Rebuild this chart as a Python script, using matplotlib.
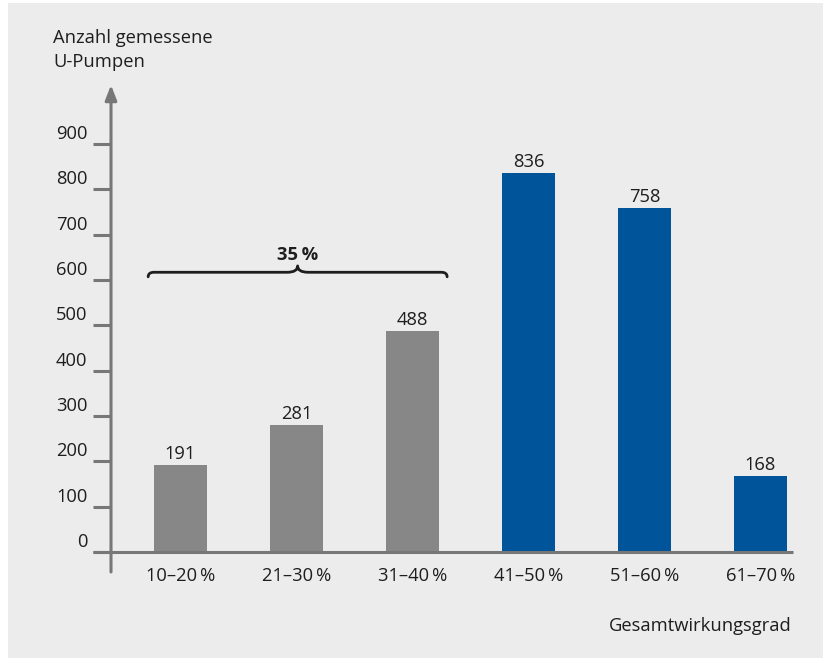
import matplotlib.pyplot as plt
import matplotlib.patches as mpatches
import matplotlib.transforms as mtransforms
from matplotlib.path import Path

# data
kategorien = ["10–20\u2009%", "21–30\u2009%", "31–40\u2009%", "41–50\u2009%", "51–60\u2009%", "61–70\u2009%"]
anzahl = [191, 281, 488, 836, 758, 168]
farben = ["#878787", "#878787", "#878787", "#00559a", "#00559a", "#00559a"]
y_ticks = [0, 100, 200, 300, 400, 500, 600, 700, 800, 900]
klammer_text = "35\u2009%"

plt.rcParams["font.family"] = ["Open Sans", "DejaVu Sans"]
TEXT = "#1e1e1e"
ACHSE = "#777777"
SIZE = 13.2

fig = plt.figure(figsize=(8.28, 6.58), dpi=100)
fig.patch.set_facecolor("white")
fig.patches.append(
    mpatches.Rectangle((8 / 828, 0), 815 / 828, 655 / 658, transform=fig.transFigure,
                       facecolor="#ececec", edgecolor="none", zorder=-10)
)

ax = fig.add_axes([93 / 828, 86 / 658, 700 / 828, 487 / 658])
ax.set_zorder(1)
ax.set_facecolor("none")
for s in ax.spines.values():
    s.set_visible(False)
ax.set_xticks([])
ax.set_yticks([])

x = list(range(len(anzahl)))
breite = 0.457
ax.bar(x, anzahl, width=breite, color=farben, zorder=2)
ax.set_xlim(-0.754, 5.280)
ax.set_ylim(-44.0, 1030)

# axes with arrow
yx = 18 / 700
trans = mtransforms.blended_transform_factory(ax.transAxes, ax.transData)
ax.plot([0, 1], [0, 0], transform=trans, color=ACHSE, lw=2.2, clip_on=False, zorder=3,
        solid_capstyle="butt")
ax.annotate("", xy=(yx, 1), xycoords="axes fraction", xytext=(yx, 0),
            textcoords="axes fraction",
            arrowprops=dict(arrowstyle="-|>,head_length=0.9,head_width=0.35",
                            color=ACHSE, lw=2.2, shrinkA=0, shrinkB=0))
for t in y_ticks:
    ax.plot([0, yx], [t, t], transform=trans, color=ACHSE, lw=2.2, clip_on=False,
            solid_capstyle="butt")
    ax.text(-0.008, t + 2, str(t), transform=trans, ha="right", va="bottom",
            fontsize=SIZE, color=TEXT)

# x labels
for xi, k in zip(x, kategorien):
    ax.annotate(k, (xi, 0), xytext=(0, -11), textcoords="offset points",
                ha="center", va="top", fontsize=SIZE, color=TEXT)

# bar values
for xi, v in zip(x, anzahl):
    ax.annotate(str(v), (xi, v), xytext=(0, 1.5), textcoords="offset points",
                ha="center", va="bottom", fontsize=SIZE, color=TEXT)

# brace over first three bars
x0 = x[0] - breite / 2 - 0.05
x1 = x[2] + breite / 2 + 0.07
xm = (x0 + x1) / 2
yb, ye, yt = 617, 607, 631
r, rt = 0.05, 0.09
verts = [(x0, ye), (x0, yb), (x0 + r, yb), (xm - rt, yb), (xm, yb), (xm, yt),
         (xm, yb), (xm + rt, yb), (x1 - r, yb), (x1, yb), (x1, ye)]
codes = [Path.MOVETO, Path.CURVE3, Path.CURVE3, Path.LINETO, Path.CURVE3, Path.CURVE3,
         Path.CURVE3, Path.CURVE3, Path.LINETO, Path.CURVE3, Path.CURVE3]
ax.add_patch(mpatches.PathPatch(Path(verts, codes), facecolor="none", edgecolor="#1e1e1e",
                                lw=2.0, capstyle="round", joinstyle="round"))
ax.text(xm, yt + 5, klammer_text, ha="center", va="bottom", fontsize=SIZE,
        fontweight="bold", color=TEXT)

fig.text(53 / 828, 1 - 29 / 658, "Anzahl gemessene\nU-Pumpen", ha="left", va="top",
         fontsize=SIZE, color=TEXT, linespacing=1.45)
fig.text(792 / 828, 1 - 626 / 658, "Gesamtwirkungsgrad", ha="right", va="center",
         fontsize=SIZE, color=TEXT)

fig.savefig("out.png", dpi=100)
